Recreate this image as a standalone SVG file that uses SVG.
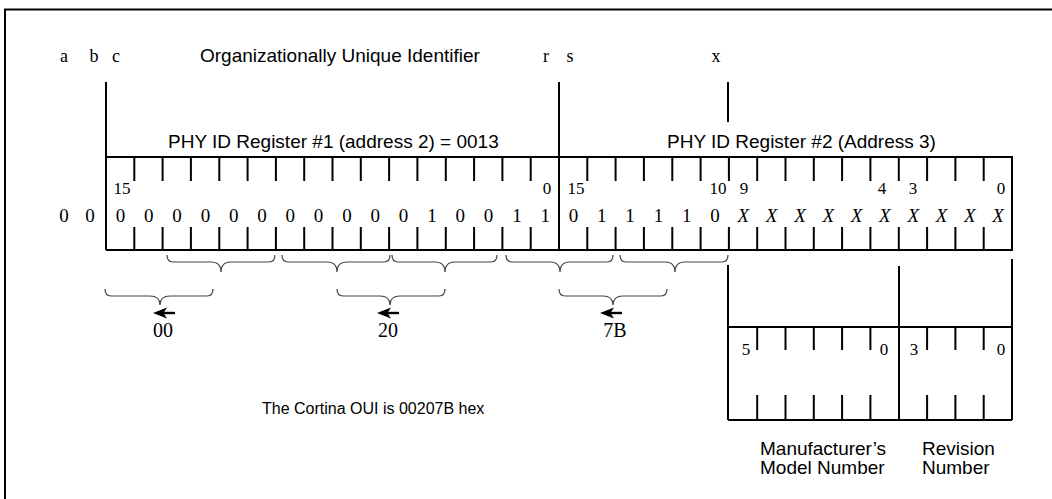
<svg xmlns="http://www.w3.org/2000/svg" width="1052" height="499" viewBox="0 0 1052 499">
<style>
.sans{font-family:"Liberation Sans",Arial,sans-serif;font-size:19px;fill:#000}
.note{font-size:16px}
.ser{font-family:"Liberation Serif","Times New Roman",serif;font-size:18px;fill:#000}
.num{font-family:"Liberation Serif","Times New Roman",serif;font-size:17px;fill:#000;text-anchor:middle}
.dig{font-family:"Liberation Serif","Times New Roman",serif;font-size:19px;fill:#000;text-anchor:middle}
.lab{font-size:20px}
.it{font-style:italic}
.ln{stroke:#000;stroke-width:2;fill:none}
.br{stroke:#444;stroke-width:1.2;fill:none}
.mid{text-anchor:middle}
</style>
<defs>
<g id="arr"><polygon points="0,0 14,-5.5 10.5,0 14,5.5" fill="#000"/><line x1="9" y1="0" x2="22" y2="0" stroke="#000" stroke-width="2.4"/></g>
</defs>
<rect width="1052" height="499" fill="#fff"/>
<g id="frame"><path class="ln" d="M5,499 V9.5 H1052"/></g>
<g id="header">
<text class="ser mid" x="64" y="62">a</text>
<text class="ser mid" x="94" y="62">b</text>
<text class="ser mid" x="116" y="62">c</text>
<text class="sans" x="200" y="62">Organizationally Unique Identifier</text>
<text class="ser mid" x="546" y="62">r</text>
<text class="ser mid" x="570" y="62">s</text>
<text class="ser mid" x="716" y="62">x</text>
</g>
<g id="reg1">
<text class="sans" x="168" y="148">PHY ID Register #1 (address 2) = 0013</text>
<path class="ln" d="M106,82 V250 M559,82 V250 M106,157 H1012 V250 H106"/>
<path class="ln" d="M134.3,157V181M162.6,157V181M190.9,157V181M219.3,157V181M247.6,157V181M275.9,157V181M304.2,157V181M332.5,157V181M360.8,157V181M389.1,157V181M417.4,157V181M445.8,157V181M474.1,157V181M502.4,157V181M530.7,157V181
M134.3,227V250M162.6,227V250M190.9,227V250M219.3,227V250M247.6,227V250M275.9,227V250M304.2,227V250M332.5,227V250M360.8,227V250M389.1,227V250M417.4,227V250M445.8,227V250M474.1,227V250M502.4,227V250M530.7,227V250"/>
<text class="num" x="122" y="194">15</text>
<text class="num" x="547" y="194">0</text>
<text class="dig" x="64" y="222">0</text>
<text class="dig" x="90" y="222">0</text>
<text class="dig" y="222"><tspan x="120.5">0</tspan><tspan x="148.8">0</tspan><tspan x="177.1">0</tspan><tspan x="205.4">0</tspan><tspan x="233.7">0</tspan><tspan x="262">0</tspan><tspan x="290.3">0</tspan><tspan x="318.6">0</tspan><tspan x="347">0</tspan><tspan x="375.3">0</tspan><tspan x="403.6">0</tspan><tspan x="431.9">1</tspan><tspan x="460.2">0</tspan><tspan x="488.5">0</tspan><tspan x="516.9">1</tspan><tspan x="545.2">1</tspan></text>
</g>
<g id="reg2">
<line class="ln" x1="728" y1="82" x2="728" y2="122"/>
<text class="sans" x="667" y="148">PHY ID Register #2 (Address 3)</text>
<path class="ln" d="M587.3,157V181M615.6,157V181M643.9,157V181M672.3,157V181M700.6,157V181M728.9,157V181M757.2,157V181M785.5,157V181M813.8,157V181M842.1,157V181M870.4,157V181M898.8,157V181M927.1,157V181M955.4,157V181M983.7,157V181
M587.3,227V250M615.6,227V250M643.9,227V250M672.3,227V250M700.6,227V250M728.9,227V250M757.2,227V250M785.5,227V250M813.8,227V250M842.1,227V250M870.4,227V250M898.8,227V250M927.1,227V250M955.4,227V250M983.7,227V250"/>
<text class="num" x="576" y="194">15</text>
<text class="num" x="718" y="194">10</text>
<text class="num" x="744" y="194">9</text>
<text class="num" x="882" y="194">4</text>
<text class="num" x="913" y="194">3</text>
<text class="num" x="1001" y="194">0</text>
<text class="dig" y="222"><tspan x="573.5">0</tspan><tspan x="601.8">1</tspan><tspan x="630.1">1</tspan><tspan x="658.4">1</tspan><tspan x="686.7">1</tspan><tspan x="715">0</tspan></text>
<text class="dig it" y="222"><tspan x="743.3">X</tspan><tspan x="771.6">X</tspan><tspan x="800">X</tspan><tspan x="828.3">X</tspan><tspan x="856.6">X</tspan><tspan x="884.9">X</tspan><tspan x="913.2">X</tspan><tspan x="941.5">X</tspan><tspan x="969.8">X</tspan><tspan x="998.1">X</tspan></text>
</g>
<g id="connectors">
<path class="br" d="M167,255 Q167,262 173,262 H211 Q221,262 221,272 Q221,262 231,262 H269 Q275,262 275,255"/>
<path class="br" d="M282,255 Q282,262 288,262 H327 Q337,262 337,272 Q337,262 347,262 H384 Q390,262 390,255"/>
<path class="br" d="M392,255 Q392,262 398,262 H435 Q445,262 445,272 Q445,262 455,262 H491 Q497,262 497,255"/>
<path class="br" d="M506,255 Q506,262 512,262 H550 Q560,262 560,272 Q560,262 570,262 H607 Q613,262 613,255"/>
<path class="br" d="M620,255 Q620,262 626,262 H665 Q675,262 675,272 Q675,262 685,262 H722 Q728,262 728,255"/>
<path class="br" d="M105,289 Q105,296 111,296 H150 Q160,296 160,305 Q160,296 170,296 H207 Q213,296 213,289"/>
<path class="br" d="M337,289 Q337,296 343,296 H380 Q390,296 390,305 Q390,296 400,296 H439 Q445,296 445,289"/>
<path class="br" d="M559,289 Q559,296 565,296 H603 Q613,296 613,305 Q613,296 623,296 H661 Q667,296 667,289"/>
<use href="#arr" x="153" y="313"/>
<use href="#arr" x="377" y="313"/>
<use href="#arr" x="600" y="313"/>
</g>
<g id="bytes">
<text class="dig lab" x="163" y="337">00</text>
<text class="dig lab" x="388" y="337">20</text>
<text class="dig lab" x="615" y="337">7B</text>
</g>
<g id="fields">
<path class="ln" d="M728,265 V420 M899,266 V421 M1012,259 V420 M728,327 H1012 M728,420 H1012"/>
<path class="ln" d="M757.2,327V350M785.5,327V350M813.8,327V350M842.1,327V350M870.4,327V350M927.1,327V350M955.4,327V350M983.7,327V350
M757.2,395V420M785.5,395V420M813.8,395V420M842.1,395V420M870.4,395V420M927.1,395V420M955.4,395V420M983.7,395V420"/>
<text class="num" x="746" y="355">5</text>
<text class="num" x="884" y="355">0</text>
<text class="num" x="914" y="355">3</text>
<text class="num" x="1001" y="355">0</text>
<text class="sans" x="760" y="455">Manufacturer’s</text>
<text class="sans" x="760" y="474">Model Number</text>
<text class="sans" x="922" y="455">Revision</text>
<text class="sans" x="922" y="474">Number</text>
</g>
<g id="note"><text class="sans note" x="262" y="414">The Cortina OUI is 00207B hex</text></g>
</svg>
